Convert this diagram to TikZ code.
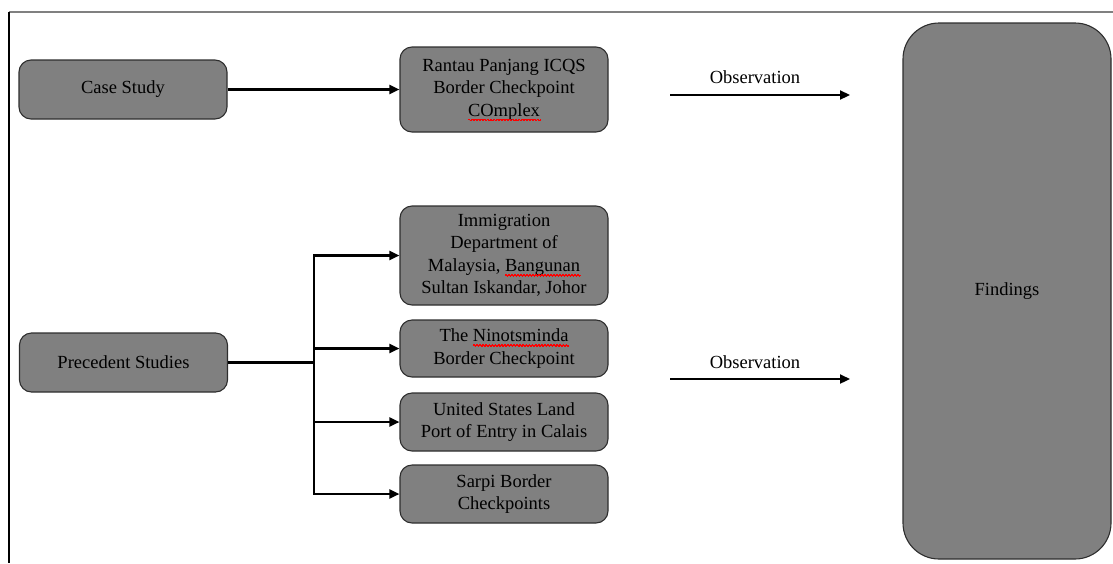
\documentclass[tikz,border=0pt]{standalone}
\usepackage{fontspec}
\setmainfont{Liberation Serif}
\usetikzlibrary{arrows.meta}
\newsavebox\wavebox
\newsavebox\wordbox
\AtBeginDocument{\sbox\wavebox{\setlength\unitlength{1pt}\begin{picture}(3,0)\color{red}\qbezier(0,0)(0.75,1.6)(1.5,0)\qbezier(1.5,0)(2.25,-1.6)(3,0)\end{picture}}}
\newcommand\redwave[1]{\sbox\wordbox{#1}\leavevmode\rlap{\usebox\wordbox}\lower3.5pt\hbox to \wd\wordbox{\xleaders\copy\wavebox\hfill}}
\definecolor{boxfill}{HTML}{808080}
\definecolor{boxline}{HTML}{2E2E2E}
\tikzset{
  box/.style={draw=boxline, line width=1.1pt, fill=boxfill, rounded corners=12pt,
    minimum width=208pt, align=center, inner sep=2pt, text=black,
    font=\fontsize{18.5}{22.5}\selectfont},
  bigbox/.style={box, rounded corners=36pt},
  arr/.style={draw=black, line width=2.2pt, -{Triangle[length=10pt,width=9pt]}},
  lbl/.style={font=\fontsize{18.5}{22.5}\selectfont, text=black, inner sep=0pt}
}
\begin{document}
\begin{tikzpicture}[x=1pt,y=-1pt]
\useasboundingbox (0,0) rectangle (1113,563);
% frame
\draw[line width=1.2pt, gray] (9,12) -- (1113,12);
\draw[line width=1.6pt, black] (9,12) -- (9,563);
% nodes
\node[box, minimum height=59pt] (cs) at (123,89.5) {Case Study};
\node[box, minimum height=85pt] (rp) at (504,89.5) {Rantau Panjang ICQS\\Border Checkpoint\\\redwave{COmplex}};
\node[box, minimum height=59pt] (ps) at (123.5,362.5) {Precedent Studies};
\node[box, minimum height=99pt] (b1) at (504,255.5) {Immigration\\Department of\\Malaysia, \redwave{Bangunan}\\Sultan Iskandar, Johor};
\node[box, minimum height=57pt] (b2) at (504,348.5) {The \redwave{Ninotsminda}\\Border Checkpoint};
\node[box, minimum height=58pt] (b3) at (504,422) {United States Land\\Port of Entry in Calais};
\node[box, minimum height=58pt] (b4) at (504,494) {Sarpi Border\\Checkpoints};
\node[bigbox, minimum height=536pt] (fd) at (1007,291) {Findings};
% connectors
\draw[arr] (cs.east) -- (rp.west);
\coordinate (jn) at (314,362.5);
\draw[line width=2.2pt] (ps.east) -- (jn);
\draw[arr] (jn) |- (b1.west);
\draw[arr] (jn) |- (b2.west);
\draw[arr] (jn) |- (b3.west);
\draw[arr] (jn) |- (b4.west);
% observation arrows
\coordinate (o1s) at (670,95);
\coordinate (o1e) at (850,95);
\coordinate (o2s) at (670,379);
\coordinate (o2e) at (850,379);
\draw[arr] (o1s) -- (o1e);
\draw[arr] (o2s) -- (o2e);
\node[lbl] (obs1) at (755,77) {Observation};
\node[lbl] (obs2) at (755,362) {Observation};
\end{tikzpicture}
\end{document}
